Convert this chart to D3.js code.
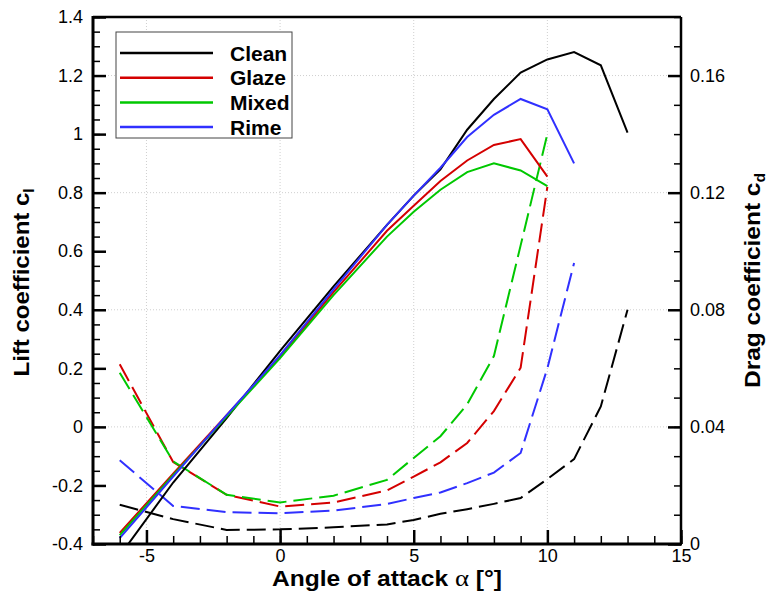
<!DOCTYPE html>
<html>
<head>
<meta charset="utf-8">
<script src="https://cdn.jsdelivr.net/npm/d3@7"></script>
<style>
  body { margin: 0; background: #fff; }
  svg { font-family: "Liberation Sans", Arial, sans-serif; }
</style>
</head>
<body>
<div id="chart"></div>
<script>
// series: lift (solid, left axis) and drag (dashed, right axis)
const seriesNames = ["Clean", "Glaze", "Mixed", "Rime"];
const seriesColors = ["#000000", "#d40000", "#00c800", "#3030ff"];

const alphaClean = [-6, -4, -2, 0, 2, 4, 5, 6, 7, 8, 9, 10, 11, 12, 13];
const alphaIced = [-6, -4, -2, 0, 2, 4, 5, 6, 7, 8, 9, 10];
const alphaRime = [-6, -4, -2, 0, 2, 4, 5, 6, 7, 8, 9, 10, 11];

const clClean = [-0.44, -0.19, 0.03, 0.26, 0.48, 0.69, 0.79, 0.88, 1.015, 1.12, 1.21, 1.255, 1.28, 1.235, 1.005];
const clGlaze = [-0.362, -0.16, 0.04, 0.24, 0.46, 0.67, 0.755, 0.84, 0.91, 0.963, 0.983, 0.855];
const clMixed = [-0.37, -0.165, 0.035, 0.235, 0.45, 0.65, 0.735, 0.81, 0.87, 0.90, 0.876, 0.822];
const clRime = [-0.38, -0.17, 0.04, 0.245, 0.47, 0.69, 0.79, 0.885, 0.99, 1.066, 1.12, 1.085, 0.90];

const cdClean = [0.0134, 0.0085, 0.0048, 0.0050, 0.0057, 0.0067, 0.0082, 0.0103, 0.0119, 0.0137, 0.0157, 0.0222, 0.0290, 0.0470, 0.0800];
const cdGlaze = [0.0614, 0.0280, 0.0168, 0.0128, 0.0142, 0.0183, 0.0230, 0.0279, 0.0345, 0.0454, 0.0602, 0.1220];
const cdMixed = [0.0585, 0.0282, 0.0168, 0.0142, 0.0165, 0.0219, 0.0294, 0.0368, 0.0477, 0.0642, 0.1020, 0.1400];
const cdRime = [0.0286, 0.0130, 0.0109, 0.0105, 0.0114, 0.0137, 0.0157, 0.0176, 0.0208, 0.0244, 0.0311, 0.0600, 0.0960];

const xTicks = [-5, 0, 5, 10, 15];
const xTickLabels = ["-5", "0", "5", "10", "15"];
const clTicks = [-0.4, -0.2, 0, 0.2, 0.4, 0.6, 0.8, 1, 1.2, 1.4];
const clTickLabels = ["-0.4", "-0.2", "0", "0.2", "0.4", "0.6", "0.8", "1", "1.2", "1.4"];
const cdTicks = [0, 0.04, 0.08, 0.12, 0.16];
const cdTickLabels = ["0", "0.04", "0.08", "0.12", "0.16"];

const W = 771, H = 597;
const margin = {top: 17, right: 90, bottom: 53, left: 93};
const width = W - margin.left - margin.right,
    height = H - margin.top - margin.bottom;

const svg = d3.select("#chart").append("svg")
    .attr("width", W)
    .attr("height", H);

const g = svg.append("g")
    .attr("transform", `translate(${margin.left}, ${margin.top})`);

const x = d3.scaleLinear().domain([-7, 15]).range([0, width]);
const yL = d3.scaleLinear().domain([-0.4, 1.4]).range([height, 0]);
const yR = d3.scaleLinear().domain([0, 0.18]).range([height, 0]);

g.append("clipPath").attr("id", "plotclip")
    .append("rect").attr("width", width).attr("height", height);

// dotted grid
g.append("g").selectAll("line").data(xTicks.filter(d => d < 15)).join("line")
    .attr("x1", d => x(d)).attr("x2", d => x(d))
    .attr("y1", 0).attr("y2", height)
    .attr("stroke", "#cfcfcf").attr("stroke-width", 1).attr("stroke-dasharray", "1,2");
g.append("g").selectAll("line").data(cdTicks.filter(d => d > 0)).join("line")
    .attr("x1", 0).attr("x2", width)
    .attr("y1", d => yR(d)).attr("y2", d => yR(d))
    .attr("stroke", "#cfcfcf").attr("stroke-width", 1).attr("stroke-dasharray", "1,2");

// curves
const liftData = [
    alphaClean.map((a, i) => [a, clClean[i]]),
    alphaIced.map((a, i) => [a, clGlaze[i]]),
    alphaIced.map((a, i) => [a, clMixed[i]]),
    alphaRime.map((a, i) => [a, clRime[i]])
];
const dragData = [
    alphaClean.map((a, i) => [a, cdClean[i]]),
    alphaIced.map((a, i) => [a, cdGlaze[i]]),
    alphaIced.map((a, i) => [a, cdMixed[i]]),
    alphaRime.map((a, i) => [a, cdRime[i]])
];

const liftLine = d3.line().x(d => x(d[0])).y(d => yL(d[1]));
const dragLine = d3.line().x(d => x(d[0])).y(d => yR(d[1]));

const curves = g.append("g").attr("clip-path", "url(#plotclip)");
dragData.forEach((s, i) => {
    curves.append("path").datum(s)
        .attr("d", dragLine)
        .attr("fill", "none")
        .attr("stroke", seriesColors[i])
        .attr("stroke-width", 2)
        .attr("stroke-dasharray", "19,7");
});
liftData.forEach((s, i) => {
    curves.append("path").datum(s)
        .attr("d", liftLine)
        .attr("fill", "none")
        .attr("stroke", seriesColors[i])
        .attr("stroke-width", 2);
});

// axes
const styleAxis = (sel, w) => {
    sel.select(".domain").remove();
    sel.selectAll(".tick line").attr("stroke", "#000").attr("stroke-width", w);
    sel.selectAll(".tick text").attr("fill", "#000")
        .style("font-family", "'Liberation Sans', Arial, sans-serif")
        .style("font-size", "18px");
};

// left
g.append("g").call(d3.axisLeft(yL).tickValues(d3.range(-0.4, 1.401, 0.05)).tickSize(-7).tickFormat(""))
    .call(s => styleAxis(s, 1.5));
g.append("g").call(d3.axisLeft(yL).tickValues(clTicks).tickSize(-13).tickPadding(10)
        .tickFormat((d, i) => clTickLabels[i]))
    .call(s => styleAxis(s, 2.5));

// right
g.append("g").attr("transform", `translate(${width},0)`)
    .call(d3.axisRight(yR).tickValues(d3.range(0, 0.1801, 0.01)).tickSize(-7).tickFormat(""))
    .call(s => styleAxis(s, 1.5));
g.append("g").attr("transform", `translate(${width},0)`)
    .call(d3.axisRight(yR).tickValues(cdTicks).tickSize(-13).tickPadding(9)
        .tickFormat((d, i) => cdTickLabels[i]))
    .call(s => styleAxis(s, 2.5));

// bottom
g.append("g").attr("transform", `translate(0,${height})`)
    .call(d3.axisBottom(x).tickValues(d3.range(-7, 15.01, 1)).tickSize(-8).tickFormat(""))
    .call(s => styleAxis(s, 1.5));
g.append("g").attr("transform", `translate(0,${height})`)
    .call(d3.axisBottom(x).tickValues(xTicks).tickSize(-14).tickPadding(5)
        .tickFormat((d, i) => xTickLabels[i]))
    .call(s => styleAxis(s, 2.5));

// frame
g.append("line").attr("x1", 0).attr("x2", width).attr("y1", 0).attr("y2", 0)
    .attr("stroke", "#000").attr("stroke-width", 2.5);
g.append("line").attr("x1", width).attr("x2", width).attr("y1", 0).attr("y2", height)
    .attr("stroke", "#000").attr("stroke-width", 2.5);
g.append("line").attr("x1", 0).attr("x2", 0).attr("y1", -1).attr("y2", height + 1.5)
    .attr("stroke", "#000").attr("stroke-width", 3);
g.append("line").attr("x1", -1.5).attr("x2", width + 1).attr("y1", height).attr("y2", height)
    .attr("stroke", "#000").attr("stroke-width", 3);

// axis titles
const leftTitle = svg.append("text")
    .attr("transform", `translate(29, ${margin.top + height / 2 + 2}) rotate(-90)`)
    .attr("text-anchor", "middle")
    .attr("textLength", 188).attr("lengthAdjust", "spacingAndGlyphs")
    .style("font-size", "22px").style("font-weight", "bold");
leftTitle.append("tspan").text("Lift coefficient c");
leftTitle.append("tspan").attr("dy", 5).style("font-size", "14px").text("l");

const rightTitle = svg.append("text")
    .attr("transform", `translate(760, ${margin.top + height / 2}) rotate(-90)`)
    .attr("text-anchor", "middle")
    .attr("textLength", 215).attr("lengthAdjust", "spacingAndGlyphs")
    .style("font-size", "22px").style("font-weight", "bold");
rightTitle.append("tspan").text("Drag coefficient c");
rightTitle.append("tspan").attr("dy", 5).style("font-size", "14px").text("d");

const bottomTitle = svg.append("text")
    .attr("x", margin.left + width / 2).attr("y", 586)
    .attr("text-anchor", "middle")
    .attr("textLength", 230).attr("lengthAdjust", "spacingAndGlyphs")
    .style("font-size", "22px").style("font-weight", "bold");
bottomTitle.append("tspan").text("Angle of attack ");
bottomTitle.append("tspan").style("font-family", "'Liberation Serif', serif")
    .style("font-weight", "normal").style("font-size", "24px").text("α");
bottomTitle.append("tspan").text(" [°]");

// legend
const legend = svg.append("g").attr("transform", "translate(116, 32)");
legend.append("rect").attr("width", 176).attr("height", 106)
    .attr("fill", "#fff").attr("stroke", "#444").attr("stroke-width", 1);
seriesNames.forEach((name, i) => {
    const yy = 21 + i * 24.7;
    legend.append("line").attr("x1", 4).attr("x2", 97).attr("y1", yy).attr("y2", yy)
        .attr("stroke", seriesColors[i]).attr("stroke-width", 2.5);
    legend.append("text").attr("x", 114).attr("y", yy).attr("dy", "0.36em")
        .style("font-size", "21px").style("font-weight", "bold").text(name);
});
</script>
</body>
</html>
